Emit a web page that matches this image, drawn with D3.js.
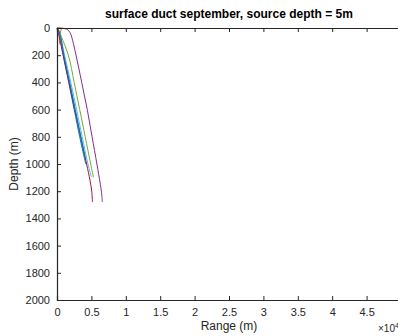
<!DOCTYPE html>
<html>
<head>
<meta charset="utf-8">
<script src="https://cdn.jsdelivr.net/npm/d3@7"></script>
<style>
  body { margin: 0; background: #fff; }
  svg { display: block; font-family: "Liberation Sans", Arial, sans-serif; }
</style>
</head>
<body>
<div id="chart"></div>
<script>
// ranges in units of 1e4 m, depths in m
const blueRange = [0, 0.02, 0.05, 0.09, 0.17, 0.25, 0.33, 0.40, 0.42];
const blueDepth = [0, 20, 80, 200, 400, 600, 800, 960, 1000];
const blue2Range = [0, 0.02, 0.06, 0.10, 0.185, 0.265, 0.345, 0.41];
const blue2Depth = [0, 15, 80, 200, 400, 600, 800, 960];
const orangeRange = [0, 0.04, 0.06, 0.05, 0.04, 0.04];
const orangeDepth = [0, 2, 8, 30, 80, 120];
const yellowRange = [0, 0.06, 0.11, 0.13];
const yellowDepth = [0, 1, 5, 12];
const purpleRange = [0, 0.05, 0.10, 0.14, 0.17, 0.20, 0.237, 0.276, 0.359, 0.44, 0.51, 0.58, 0.63, 0.652, 0.658];
const purpleDepth = [0, 1, 3, 8, 20, 45, 112, 199, 399, 600, 800, 1000, 1150, 1230, 1280];
const greenRange = [0, 0.015, 0.06, 0.165, 0.25, 0.33, 0.41, 0.49, 0.53];
const greenDepth = [0, 10, 60, 200, 400, 600, 800, 1000, 1098];
const cyanRange = [0, 0.02, 0.045, 0.11, 0.20, 0.285, 0.365, 0.45, 0.50];
const cyanDepth = [0, 10, 50, 200, 400, 600, 800, 1000, 1095];
const redRange = [0, 0.02, 0.09, 0.175, 0.26, 0.345, 0.43, 0.48, 0.505, 0.515];
const redDepth = [0, 40, 200, 400, 600, 800, 1000, 1120, 1200, 1280];

const xTicks = [0, 0.5, 1, 1.5, 2, 2.5, 3, 3.5, 4, 4.5, 5];
const yTicks = [0, 200, 400, 600, 800, 1000, 1200, 1400, 1600, 1800, 2000];

const series = [
  {x: blueRange, y: blueDepth, color: '#0072BD'},
  {x: orangeRange, y: orangeDepth, color: '#D95319'},
  {x: yellowRange, y: yellowDepth, color: '#EDB120'},
  {x: purpleRange, y: purpleDepth, color: '#7E2F8E'},
  {x: greenRange, y: greenDepth, color: '#77AC30'},
  {x: cyanRange, y: cyanDepth, color: '#4DBEEE'},
  {x: redRange, y: redDepth, color: '#A2142F'},
  {x: blue2Range, y: blue2Depth, color: '#0072BD'}
];

const config = {
  width: 398,
  height: 336,
  margin: {top: 28, left: 57, right: -3, bottom: 36}
};
const innerW = config.width - config.margin.left - config.margin.right;
const innerH = config.height - config.margin.top - config.margin.bottom;

const xScale = d3.scaleLinear().domain([0, 5]).range([0, innerW]);
const yScale = d3.scaleLinear().domain([0, 2000]).range([0, innerH]);

const svg = d3.select('#chart').append('svg')
  .attr('width', config.width)
  .attr('height', config.height);

const g = svg.append('g')
  .attr('transform', `translate(${config.margin.left},${config.margin.top})`);

const line = d3.line()
  .x(d => xScale(d[0]))
  .y(d => yScale(d[1]))
  .curve(d3.curveCatmullRom);

series.forEach(s => {
  g.append('path')
    .datum(s.x.map((v, i) => [v, s.y[i]]))
    .attr('fill', 'none')
    .attr('stroke', s.color)
    .attr('stroke-width', 1)
    .attr('d', line);
});

const axisColor = '#262626';
const tickLen = 4;

// bottom axis
const xAxis = g.append('g').attr('transform', `translate(0,${innerH})`)
  .call(d3.axisBottom(xScale).tickValues(xTicks).tickSize(-tickLen).tickPadding(8)
    .tickFormat(d => d === 5 ? '' : String(d)));
// top axis
const xAxisTop = g.append('g')
  .call(d3.axisTop(xScale).tickValues(xTicks).tickSize(-tickLen).tickFormat(''));
// left axis
const yAxis = g.append('g')
  .call(d3.axisLeft(yScale).tickValues(yTicks).tickSize(-tickLen).tickPadding(7)
    .tickFormat(d => String(d)));

[xAxis, xAxisTop, yAxis].forEach(a => {
  a.selectAll('path.domain').attr('stroke', axisColor).attr('stroke-width', 1.2);
  a.selectAll('.tick line').attr('stroke', axisColor);
  a.selectAll('.tick text').attr('fill', axisColor).style('font-size', '11px')
    .style('font-family', '"Liberation Sans", Arial, sans-serif');
});

// title
svg.append('text')
  .attr('x', 229)
  .attr('y', 18)
  .attr('text-anchor', 'middle')
  .style('font-size', '12px')
  .style('font-weight', 'bold')
  .attr('fill', '#000')
  .text('surface duct september, source depth = 5m');

// axis labels
svg.append('text')
  .attr('x', 229)
  .attr('y', 330)
  .attr('text-anchor', 'middle')
  .style('font-size', '12px')
  .attr('fill', axisColor)
  .text('Range (m)');

svg.append('text')
  .attr('transform', `translate(18,${config.margin.top + innerH / 2}) rotate(-90)`)
  .attr('text-anchor', 'middle')
  .style('font-size', '12px')
  .attr('fill', axisColor)
  .text('Depth (m)');

// exponent
const expo = svg.append('text')
  .attr('x', 378)
  .attr('y', 332)
  .style('font-size', '10px')
  .attr('fill', axisColor);
expo.append('tspan').text('\u00d710');
expo.append('tspan').attr('dy', -4).style('font-size', '7px').text('4');
</script>
</body>
</html>
